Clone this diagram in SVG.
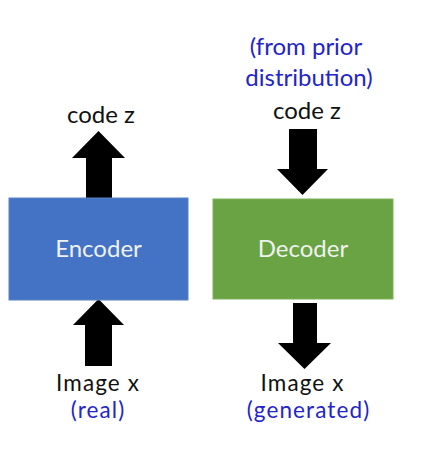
<svg xmlns="http://www.w3.org/2000/svg" width="434" height="456" viewBox="0 0 434 456">
<style>
.t{font-family:Lato,"Liberation Sans",sans-serif;font-size:24px;text-anchor:middle}
.sm{font-size:22.5px;letter-spacing:1.1px}
.lbl{fill:#111}
.note{fill:#2424c8}
.inbox{fill:#eef2ee}
.arrow{fill:#000}
</style>
<rect width="434" height="456" fill="#fff"/>
<g id="connectors">
<polygon class="arrow" points="86,198 86,158 72,158 98.5,131 125,158 112,158 112,198"/>
<polygon class="arrow" points="85,366 85,325 73,325 98.5,299 124,325 112,325 112,366"/>
<polygon class="arrow" points="289,129 317,129 317,169 328,169 302.5,195 277,169 289,169"/>
<polygon class="arrow" points="293,303 317,303 317,343 331,343 304.5,369 278,343 293,343"/>
</g>
<g id="encoder">
<rect x="9" y="198" width="179" height="102" fill="#4472c4" stroke="#5a82c8" stroke-width="1"/>
<text class="t inbox" x="98.5" y="257">Encoder</text>
</g>
<g id="decoder">
<rect x="213" y="199" width="180" height="100" fill="#6aa343" stroke="#7db15a" stroke-width="1"/>
<text class="t inbox" x="303" y="257">Decoder</text>
</g>
<g id="enc-code">
<text class="t lbl" x="101" y="123">code z</text>
</g>
<g id="enc-image">
<text class="t sm lbl" x="98" y="391">Image x</text>
<text class="t sm note" x="98" y="418">(real)</text>
</g>
<g id="dec-code">
<text class="t note" x="306" y="55">(from prior</text>
<text class="t note" x="309" y="86">distribution)</text>
<text class="t lbl" x="307" y="119">code z</text>
</g>
<g id="dec-image">
<text class="t sm lbl" x="302.5" y="391">Image x</text>
<text class="t sm note" x="308.5" y="418">(generated)</text>
</g>
</svg>
